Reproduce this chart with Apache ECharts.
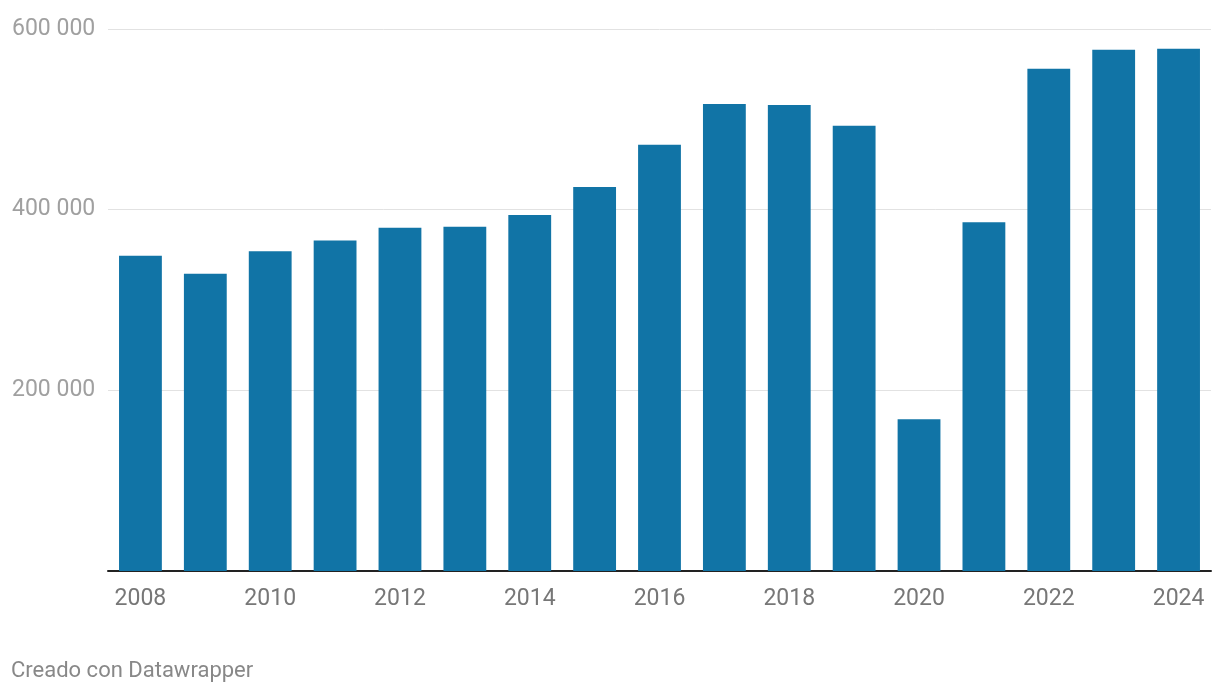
<!DOCTYPE html>
<html>
<head>
<meta charset="utf-8">
<script src="https://cdn.jsdelivr.net/npm/echarts@6/dist/echarts.min.js"></script>
<style>
html,body{margin:0;padding:0;background:#fff;}
#chart{width:1220px;height:694px;}
</style>
</head>
<body>
<div id="chart"></div>
<script>
const categories = ['2008','2009','2010','2011','2012','2013','2014','2015','2016','2017','2018','2019','2020','2021','2022','2023','2024'];
const values = [349000, 329000, 354000, 366000, 380000, 381000, 394000, 425000, 472000, 517000, 516000, 493000, 168000, 386000, 556000, 577000, 578000];
const yTicks = [0, 200000, 400000, 600000];
const footerText = 'Creado con Datawrapper';

const chart = echarts.init(document.getElementById('chart'), null, {renderer: 'canvas'});
chart.setOption({
  animation: false,
  backgroundColor: '#ffffff',
  textStyle: {fontFamily: 'Roboto'},
  graphic: [{
    type: 'text', left: 11, top: 660,
    style: {text: footerText, fill: '#888888', font: '22px Roboto'}
  }],
  grid: {left: 108, right: 9, top: 29, bottom: 123, containLabel: false},
  xAxis: {
    type: 'category',
    data: categories,
    axisLine: {show: true, lineStyle: {color: '#222222', width: 2}},
    axisTick: {show: false},
    axisLabel: {interval: 1, color: '#777777', fontSize: 23, fontFamily: 'Roboto', margin: 17}
  },
  yAxis: {
    type: 'value',
    min: yTicks[0],
    max: yTicks[yTicks.length - 1],
    interval: yTicks[1] - yTicks[0],
    axisLine: {show: false},
    axisTick: {show: false},
    splitLine: {lineStyle: {color: '#e2e2e2', width: 1}},
    axisLabel: {
      color: '#a0a0a0', fontSize: 23, fontFamily: 'Roboto',
      align: 'left', margin: 96,
      formatter: v => v === 0 ? '' : String(v).replace(/\B(?=(\d{3})+(?!\d))/g, ' ')
    }
  },
  series: [{
    type: 'bar',
    data: values,
    barWidth: '66%',
    itemStyle: {color: '#1174a6'}
  }]
});
</script>
</body>
</html>
